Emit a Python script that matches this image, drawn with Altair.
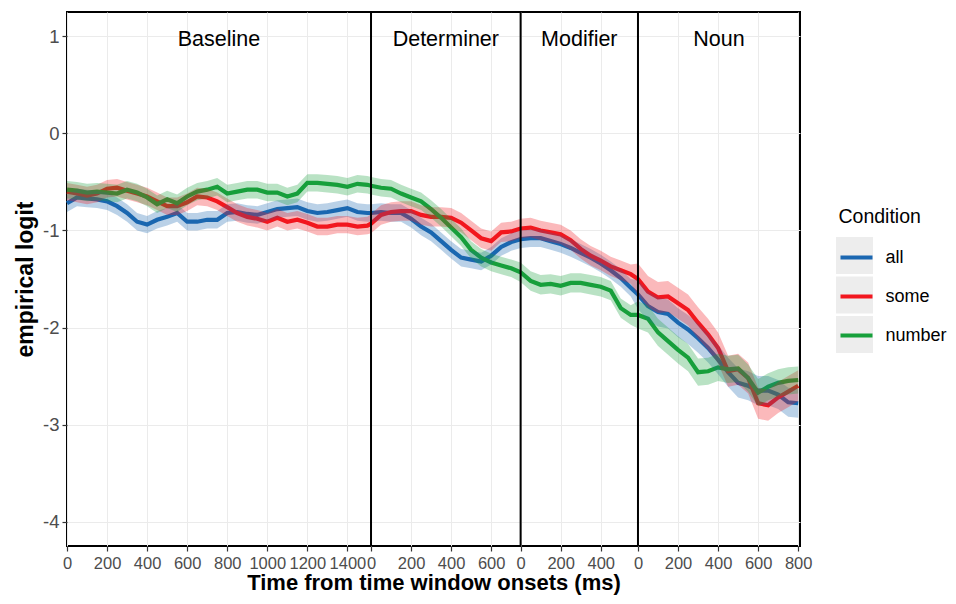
import altair as alt
import pandas as pd

# ---------------- data ----------------
conditions = ["all", "some", "number"]
colors = ["#1B67B1", "#F2171F", "#17A03B"]

windows = ["Baseline", "Determiner", "Modifier", "Noun"]
window_offsets = [0, 1518, 2265, 2851]     # global ms where each window starts
window_ends = [1518, 2265, 2851, 3660]

t_baseline = [0, 50, 100, 150, 200, 250, 300, 350, 400, 450, 500, 550, 600, 650, 700,
              750, 800, 850, 900, 950, 1000, 1050, 1100, 1150, 1200, 1250, 1300, 1350,
              1400, 1450, 1500]
t_determiner = [0, 50, 100, 150, 200, 250, 300, 350, 400, 450, 500, 550, 600, 650, 700]
t_modifier = [0, 50, 100, 150, 200, 250, 300, 350, 400, 450, 500, 550]
t_noun = [0, 50, 100, 150, 200, 250, 300, 350, 400, 450, 500, 550, 600, 650, 700, 750, 800]

all_baseline = [-0.72, -0.66, -0.67, -0.68, -0.70, -0.75, -0.82, -0.91, -0.94, -0.89, -0.86,
                -0.82, -0.91, -0.91, -0.89, -0.89, -0.82, -0.81, -0.83, -0.84, -0.81, -0.78,
                -0.77, -0.76, -0.80, -0.82, -0.81, -0.79, -0.77, -0.81, -0.82]
some_baseline = [-0.60, -0.62, -0.64, -0.62, -0.57, -0.56, -0.59, -0.62, -0.65, -0.70, -0.75,
                 -0.75, -0.71, -0.65, -0.66, -0.70, -0.76, -0.82, -0.86, -0.88, -0.91, -0.87,
                 -0.91, -0.89, -0.92, -0.96, -0.96, -0.94, -0.94, -0.96, -0.95]
number_baseline = [-0.58, -0.59, -0.61, -0.60, -0.61, -0.62, -0.58, -0.61, -0.66, -0.73, -0.68,
                   -0.72, -0.65, -0.60, -0.58, -0.55, -0.62, -0.60, -0.58, -0.58, -0.61, -0.61,
                   -0.65, -0.62, -0.51, -0.51, -0.52, -0.53, -0.55, -0.52, -0.53]

all_determiner = [-0.82, -0.81, -0.82, -0.82, -0.88, -0.96, -1.02, -1.11, -1.20, -1.28, -1.30,
                  -1.32, -1.26, -1.17, -1.12]
some_determiner = [-0.93, -0.84, -0.81, -0.80, -0.80, -0.84, -0.86, -0.86, -0.87, -0.92, -1.00,
                   -1.08, -1.11, -1.02, -1.01]
number_determiner = [-0.54, -0.56, -0.57, -0.62, -0.66, -0.70, -0.78, -0.87, -0.97, -1.07, -1.20,
                     -1.28, -1.33, -1.36, -1.39]

all_modifier = [-1.09, -1.08, -1.08, -1.11, -1.14, -1.18, -1.23, -1.28, -1.34, -1.41, -1.49, -1.59]
some_modifier = [-0.98, -0.97, -1.00, -1.02, -1.04, -1.10, -1.19, -1.26, -1.31, -1.37, -1.41, -1.45]
number_modifier = [-1.43, -1.52, -1.56, -1.55, -1.57, -1.54, -1.54, -1.56, -1.58, -1.62, -1.80, -1.87]

all_noun = [-1.66, -1.78, -1.84, -1.86, -1.95, -2.02, -2.11, -2.21, -2.33, -2.46, -2.57, -2.60,
            -2.65, -2.65, -2.69, -2.77, -2.78]
some_noun = [-1.50, -1.63, -1.69, -1.68, -1.75, -1.82, -1.95, -2.07, -2.21, -2.45, -2.43, -2.52,
             -2.78, -2.80, -2.72, -2.66, -2.60]
number_noun = [-1.87, -1.91, -2.05, -2.14, -2.23, -2.31, -2.46, -2.45, -2.41, -2.43, -2.42, -2.52,
               -2.67, -2.61, -2.57, -2.55, -2.54]

# ribbon half-widths per window (Baseline, Determiner, Modifier, Noun)
ci_all = [0.09, 0.09, 0.09, 0.15]
ci_some = [0.09, 0.10, 0.10, 0.16]
ci_number = [0.09, 0.09, 0.10, 0.14]

# x axis tick labels (local ms within each window)
ticks_baseline = [0, 200, 400, 600, 800, 1000, 1200, 1400]
ticks_determiner = [0, 200, 400, 600]
ticks_modifier = [0, 200, 400]
ticks_noun = [0, 200, 400, 600, 800]

# ---------------- assemble ----------------
times = [t_baseline, t_determiner, t_modifier, t_noun]
series = {
    "all": ([all_baseline, all_determiner, all_modifier, all_noun], ci_all),
    "some": ([some_baseline, some_determiner, some_modifier, some_noun], ci_some),
    "number": ([number_baseline, number_determiner, number_modifier, number_noun], ci_number),
}
rows = []
for cond in conditions:
    vals_list, cis = series[cond]
    for w, (ts, vs, ci) in enumerate(zip(times, vals_list, cis)):
        for t, v in zip(ts, vs):
            rows.append({"condition": cond, "key": "key-" + cond, "t": window_offsets[w] + t,
                         "value": v, "lo": v - ci, "hi": v + ci})
df = pd.DataFrame(rows)

tick_values = []
for off, tk in zip(window_offsets, [ticks_baseline, ticks_determiner, ticks_modifier, ticks_noun]):
    tick_values += [off + v for v in tk]

label_expr = "datum.value"
for off in window_offsets[1:]:
    label_expr = f"datum.value >= {off} ? datum.value - {off} : ({label_expr})"

win_df = pd.DataFrame({
    "window": windows,
    "mid": [(a + b) / 2 for a, b in zip(window_offsets, window_ends)],
})
bound_df = pd.DataFrame({"t": window_offsets[1:]})

FONT = "Liberation Sans"
x_scale = alt.Scale(domain=[0, 3660], nice=False, zero=False)
y_scale = alt.Scale(domain=[-4.25, 1.25], nice=False, zero=False)

x_enc = alt.X("t:Q", scale=x_scale, title="Time from time window onsets (ms)",
              axis=alt.Axis(values=tick_values, tickCount=len(tick_values) + 10,
                            labelExpr=label_expr, labelOverlap=False,
                            labelFlush=False, labelBound=False, grid=True, gridColor="#EBEBEB",
                            gridWidth=1, domain=False, tickColor="#333333", tickSize=5,
                            tickWidth=1.2, labelColor="#4D4D4D", labelFontSize=16.5,
                            labelFont=FONT, labelPadding=4, titleFont=FONT,
                            titleFontSize=22, titleFontWeight="bold", titleColor="black",
                            titlePadding=1))
y_enc = alt.Y("value:Q", scale=y_scale, title="empirical logit",
              axis=alt.Axis(values=[1, 0, -1, -2, -3, -4], labelExpr="datum.value + ''",
                            grid=True, gridColor="#EBEBEB", gridWidth=1, domain=False,
                            tickColor="#333333", tickSize=5, tickWidth=1.2,
                            labelColor="#4D4D4D", labelFontSize=18.5, labelFont=FONT,
                            labelPadding=3, titleFont=FONT, titleFontSize=23,
                            titleFontWeight="bold", titleColor="black", titlePadding=5))

base = alt.Chart(df)

lines = base.mark_line(strokeWidth=4.2).encode(
    x=x_enc, y=y_enc,
    color=alt.Color("condition:N", scale=alt.Scale(domain=conditions, range=colors),
                    legend=alt.Legend(orient="none", legendX=771.5, legendY=196,
                                      title="Condition", titleFont=FONT, titleFontSize=19.5,
                                      titleFontWeight="normal", titleColor="black",
                                      titlePadding=12, symbolType="stroke", symbolSize=1024,
                                      symbolStrokeWidth=4, labelFont=FONT, labelFontSize=18,
                                      labelColor="black", labelOffset=11, rowPadding=12,
                                      padding=0)),
    detail="condition:N",
)

ribbons = base.mark_area(opacity=0.3).encode(
    x="t:Q", y="lo:Q", y2="hi:Q",
    fill=alt.Fill("condition:N", scale=alt.Scale(domain=conditions, range=colors), legend=None),
)

keys = base.mark_point(filled=True, size=0, opacity=1, color="#EDEDED").encode(
    x="t:Q", y="value:Q",
    shape=alt.Shape("key:N", scale=alt.Scale(domain=["key-" + c for c in conditions],
                                             range=["square", "square", "square"]),
                    legend=alt.Legend(orient="none", legendX=769, legendY=225, title=None,
                                      symbolSize=1369, symbolFillColor="#EDEDED",
                                      symbolStrokeWidth=0, labelOpacity=0, labelFontSize=1,
                                      rowPadding=2.5, padding=0)),
)

rules = alt.Chart(bound_df).mark_rule(color="black", strokeWidth=2).encode(x="t:Q")

labels = alt.Chart(win_df).mark_text(font=FONT, fontSize=21.5, color="black",
                                     baseline="middle").encode(
    x="mid:Q", y=alt.value(28), text="window:N")

chart = alt.layer(keys, lines, ribbons, rules, labels).properties(
    width=733, height=534,
    background="white",
    autosize=alt.AutoSizeParams(type="none"),
    padding={"left": 59, "top": 4, "right": 148, "bottom": 50},
).configure_view(stroke="black", strokeWidth=2)

chart.save("out.html", embed_options={"renderer": "svg", "actions": False})
